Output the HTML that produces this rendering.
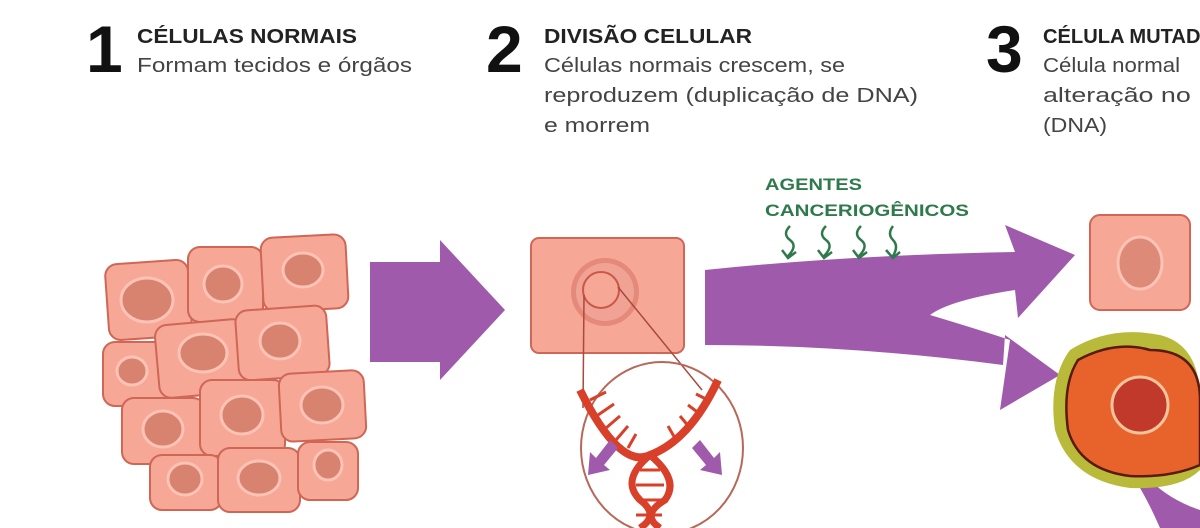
<!DOCTYPE html>
<html><head><meta charset="utf-8"><style>
html,body{margin:0;padding:0;background:#fff;width:1200px;height:528px;overflow:hidden}
svg{display:block}
text{font-family:"Liberation Sans",sans-serif}
</style></head><body>
<svg width="1200" height="528" viewBox="0 0 1200 528" xmlns="http://www.w3.org/2000/svg">
<defs>
<g id="cell"><rect x="-1" y="-1" width="2" height="2" rx="0.18" fill="#f6a796" stroke="#d0695a" stroke-width="0.05"/></g>
</defs>
<!-- headings -->
<text x="86" y="72" font-size="66" font-weight="bold" fill="#111">1</text>
<text x="137" y="43" font-size="20" font-weight="bold" fill="#222" textLength="220" lengthAdjust="spacingAndGlyphs">CÉLULAS NORMAIS</text>
<text x="137" y="72" font-size="20" fill="#444" textLength="275" lengthAdjust="spacingAndGlyphs">Formam tecidos e órgãos</text>
<text x="486" y="72" font-size="66" font-weight="bold" fill="#111">2</text>
<text x="544" y="43" font-size="20" font-weight="bold" fill="#222" textLength="208" lengthAdjust="spacingAndGlyphs">DIVISÃO CELULAR</text>
<text x="544" y="72" font-size="20" fill="#444" textLength="301" lengthAdjust="spacingAndGlyphs">Células normais crescem, se</text>
<text x="544" y="102" font-size="20" fill="#444" textLength="374" lengthAdjust="spacingAndGlyphs">reproduzem (duplicação de DNA)</text>
<text x="544" y="132" font-size="20" fill="#444" textLength="106" lengthAdjust="spacingAndGlyphs">e morrem</text>
<text x="986" y="72" font-size="66" font-weight="bold" fill="#111">3</text>
<text x="1043" y="43" font-size="20" font-weight="bold" fill="#222" textLength="172" lengthAdjust="spacingAndGlyphs">CÉLULA MUTADA</text>
<text x="1043" y="72" font-size="20" fill="#444" textLength="137" lengthAdjust="spacingAndGlyphs">Célula normal</text>
<text x="1043" y="102" font-size="20" fill="#444" textLength="200" lengthAdjust="spacingAndGlyphs">alteração no mat</text>
<text x="1043" y="132" font-size="20" fill="#444" textLength="64" lengthAdjust="spacingAndGlyphs">(DNA)</text>

<!-- tissue cells -->
<g stroke="#cf6656" stroke-width="2" fill="#f6a796">
<rect x="107" y="262" width="83" height="76" rx="12" transform="rotate(-4 148 300)"/>
<rect x="188" y="247" width="75" height="75" rx="12"/>
<rect x="262" y="236" width="85" height="74" rx="12" transform="rotate(-3 305 273)"/>
<rect x="103" y="342" width="64" height="64" rx="12"/>
<rect x="157" y="322" width="90" height="73" rx="12" transform="rotate(-5 202 358)"/>
<rect x="237" y="308" width="91" height="70" rx="12" transform="rotate(-4 282 343)"/>
<rect x="122" y="398" width="83" height="66" rx="12"/>
<rect x="200" y="380" width="85" height="76" rx="12"/>
<rect x="280" y="372" width="85" height="68" rx="12" transform="rotate(-3 322 406)"/>
<rect x="150" y="455" width="72" height="55" rx="12"/>
<rect x="218" y="448" width="82" height="64" rx="12"/>
<rect x="298" y="442" width="60" height="58" rx="12"/>
</g>
<g fill="#d88270" stroke="#fbc3b5" stroke-width="3">
<ellipse cx="147" cy="300" rx="26" ry="22"/>
<ellipse cx="223" cy="284" rx="19" ry="18"/>
<ellipse cx="303" cy="270" rx="20" ry="17"/>
<ellipse cx="132" cy="371" rx="15" ry="14"/>
<ellipse cx="203" cy="353" rx="24" ry="19"/>
<ellipse cx="280" cy="341" rx="20" ry="18"/>
<ellipse cx="163" cy="429" rx="20" ry="18"/>
<ellipse cx="242" cy="415" rx="21" ry="19"/>
<ellipse cx="322" cy="405" rx="21" ry="18"/>
<ellipse cx="185" cy="479" rx="17" ry="16"/>
<ellipse cx="259" cy="478" rx="21" ry="17"/>
<ellipse cx="328" cy="465" rx="14" ry="15"/>
</g>

<!-- arrow 1 -->
<polygon points="370,262 440,262 440,240 505,310 440,380 440,362 370,362" fill="#a05aab"/>

<!-- cell 2 -->
<rect x="531" y="238" width="153" height="115" rx="8" fill="#f6a796" stroke="#cf6656" stroke-width="2"/>
<circle cx="605" cy="292" r="34" fill="#e58a7a"/>
<circle cx="605" cy="292" r="29" fill="#f7b4a5" opacity="0.6"/>
<circle cx="601" cy="290" r="18" fill="#f6a796" stroke="#c85848" stroke-width="2"/>
<line x1="584" y1="295" x2="583" y2="408" stroke="#a84a3c" stroke-width="1.5"/>
<line x1="618" y1="287" x2="702" y2="390" stroke="#a84a3c" stroke-width="1.5"/>
<ellipse cx="662" cy="448" rx="81" ry="86" fill="none" stroke="#b8685a" stroke-width="2"/>
<!-- DNA -->
<g stroke="#d8402a" fill="none">
<path d="M580 390 Q620 470 650 455 Q690 440 718 380" stroke-width="8"/>
<path d="M650 455 Q620 480 640 500 Q660 515 640 528" stroke-width="7"/>
<path d="M650 455 Q680 480 665 500 Q640 515 660 528" stroke-width="7"/>
<g stroke-width="3">
<line x1="590" y1="400" x2="606" y2="392"/><line x1="598" y1="415" x2="614" y2="404"/>
<line x1="606" y1="428" x2="620" y2="416"/><line x1="616" y1="440" x2="628" y2="426"/>
<line x1="628" y1="448" x2="636" y2="434"/><line x1="676" y1="440" x2="668" y2="426"/>
<line x1="690" y1="428" x2="680" y2="416"/><line x1="700" y1="414" x2="688" y2="405"/>
<line x1="708" y1="400" x2="696" y2="394"/>
<line x1="640" y1="470" x2="660" y2="470"/><line x1="636" y1="485" x2="664" y2="485"/>
<line x1="640" y1="500" x2="662" y2="500"/><line x1="636" y1="515" x2="662" y2="515"/>
</g></g>
<polygon points="610,440 596,458 590,452 588,475 610,470 604,465 618,448" fill="#a05aab"/>
<polygon points="700,440 714,458 720,452 722,475 700,470 706,465 692,448" fill="#a05aab"/>

<!-- big split arrow -->
<path d="M705 270 Q850 255 1015 252 L1005 225 L1075 255 L1018 318 L1015 290 Q950 300 930 315 Q980 330 1010 340 L1000 410 L1060 375 L1005 335 L1003 365 Q850 345 705 345 Z" fill="#a05aab"/>

<!-- agents -->
<text x="765" y="190" font-size="17" font-weight="bold" fill="#2f7a4c" textLength="97" lengthAdjust="spacingAndGlyphs">AGENTES</text>
<text x="765" y="216" font-size="17" font-weight="bold" fill="#2f7a4c" textLength="204" lengthAdjust="spacingAndGlyphs">CANCERIOGÊNICOS</text>
<g stroke="#2f7a4c" stroke-width="2.5" fill="none">
<path d="M790 226 Q782 234 790 240 Q798 246 788 256 M782 250 L788 258 L796 252"/>
<path d="M826 226 Q818 234 826 240 Q834 246 824 256 M818 250 L824 258 L832 252"/>
<path d="M861 226 Q853 234 861 240 Q869 246 859 256 M853 250 L859 258 L867 252"/>
<path d="M893 226 Q887 234 893 240 Q899 246 893 256 M886 250 L893 258 L900 252"/>
</g>

<!-- cell 3 normal -->
<rect x="1090" y="215" width="100" height="95" rx="10" fill="#f6a796" stroke="#cf6656" stroke-width="2"/>
<ellipse cx="1140" cy="263" rx="22" ry="26" fill="#dd8a78" stroke="#fbc3b5" stroke-width="3"/>

<!-- mutated -->
<path d="M1150 480 Q1170 500 1200 510 L1200 528 L1160 528 Q1150 505 1140 488 Z" fill="#a05aab"/>
<path d="M1070 350 Q1110 325 1160 335 Q1200 345 1200 400 L1200 470 Q1180 490 1130 488 Q1070 480 1055 430 Q1048 380 1070 350 Z" fill="#b9b93a"/>
<path d="M1078 360 Q1115 340 1150 350 Q1200 350 1200 400 L1200 465 Q1170 478 1130 476 Q1080 470 1068 430 Q1062 385 1078 360 Z" fill="#e8632c" stroke="#5a1a10" stroke-width="2.5"/>
<circle cx="1140" cy="405" r="28" fill="#c0392b" stroke="#f6c49a" stroke-width="3"/>
</svg>
</body></html>
